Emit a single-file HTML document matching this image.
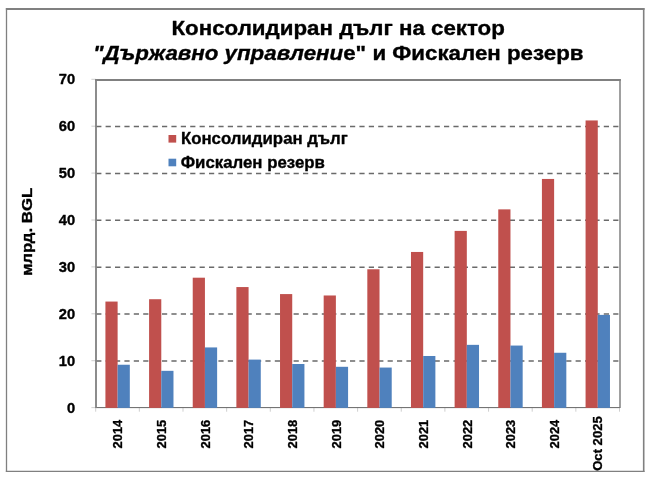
<!DOCTYPE html><html><head><meta charset="utf-8"><title>Консолидиран дълг</title>
<style>html,body{margin:0;padding:0;background:#fff;}svg{display:block;font-family:"Liberation Sans",Arial,sans-serif;font-weight:bold;fill:#000;}text{stroke:#000;stroke-width:0.35px;stroke-linejoin:round;}</style></head><body>
<svg width="650" height="480" viewBox="0 0 650 480">
<rect x="0" y="0" width="650" height="480" fill="#fff"/>
<path d="M5.85 9H644.5" stroke="#808080" stroke-width="1.9" fill="none"/>
<path d="M6.5 8V472.1" stroke="#808080" stroke-width="1.3" fill="none"/>
<path d="M643.7 8V472.1" stroke="#808080" stroke-width="1.6" fill="none"/>
<path d="M5.85 471.4H644.5" stroke="#808080" stroke-width="1.4" fill="none"/>
<path d="M95.1 80H620.8" stroke="#808080" stroke-width="1.8" fill="none"/>
<path d="M620.0 79.1V408.09999999999997" stroke="#808080" stroke-width="1.5" fill="none"/>
<line x1="96.2" x2="619.8" y1="361.00" y2="361.00" stroke="#6a6a6a" stroke-width="1.5" stroke-dasharray="5.2 4.2"/>
<line x1="96.2" x2="619.8" y1="314.10" y2="314.10" stroke="#6a6a6a" stroke-width="1.5" stroke-dasharray="5.2 4.2"/>
<line x1="96.2" x2="619.8" y1="267.20" y2="267.20" stroke="#6a6a6a" stroke-width="1.5" stroke-dasharray="5.2 4.2"/>
<line x1="96.2" x2="619.8" y1="220.30" y2="220.30" stroke="#6a6a6a" stroke-width="1.5" stroke-dasharray="5.2 4.2"/>
<line x1="96.2" x2="619.8" y1="173.40" y2="173.40" stroke="#6a6a6a" stroke-width="1.5" stroke-dasharray="5.2 4.2"/>
<line x1="96.2" x2="619.8" y1="126.50" y2="126.50" stroke="#6a6a6a" stroke-width="1.5" stroke-dasharray="5.2 4.2"/>
<line x1="96.0" x2="619.8" y1="407.59999999999997" y2="407.59999999999997" stroke="#666" stroke-width="1"/>
<rect x="105.42" y="301.56" width="12.2" height="106.34" fill="#c0504d"/>
<rect x="117.62" y="364.74" width="12.2" height="43.16" fill="#4f81bd"/>
<rect x="149.08" y="299.22" width="12.2" height="108.68" fill="#c0504d"/>
<rect x="161.28" y="370.83" width="12.2" height="37.07" fill="#4f81bd"/>
<rect x="192.73" y="277.70" width="12.2" height="130.20" fill="#c0504d"/>
<rect x="204.93" y="347.43" width="12.2" height="60.47" fill="#4f81bd"/>
<rect x="236.38" y="287.06" width="12.2" height="120.84" fill="#c0504d"/>
<rect x="248.57" y="359.60" width="12.2" height="48.30" fill="#4f81bd"/>
<rect x="280.03" y="294.08" width="12.2" height="113.82" fill="#c0504d"/>
<rect x="292.23" y="364.00" width="12.2" height="43.90" fill="#4f81bd"/>
<rect x="323.68" y="295.48" width="12.2" height="112.42" fill="#c0504d"/>
<rect x="335.88" y="366.80" width="12.2" height="41.10" fill="#4f81bd"/>
<rect x="367.32" y="269.27" width="12.2" height="138.63" fill="#c0504d"/>
<rect x="379.52" y="367.55" width="12.2" height="40.35" fill="#4f81bd"/>
<rect x="410.98" y="251.96" width="12.2" height="155.94" fill="#c0504d"/>
<rect x="423.18" y="355.99" width="12.2" height="51.91" fill="#4f81bd"/>
<rect x="454.62" y="230.90" width="12.2" height="177.00" fill="#c0504d"/>
<rect x="466.82" y="344.85" width="12.2" height="63.05" fill="#4f81bd"/>
<rect x="498.27" y="209.37" width="12.2" height="198.53" fill="#c0504d"/>
<rect x="510.47" y="345.56" width="12.2" height="62.34" fill="#4f81bd"/>
<rect x="541.92" y="178.95" width="12.2" height="228.95" fill="#c0504d"/>
<rect x="554.12" y="352.76" width="12.2" height="55.14" fill="#4f81bd"/>
<rect x="585.57" y="120.45" width="12.2" height="287.45" fill="#c0504d"/>
<rect x="597.77" y="314.90" width="12.2" height="93.00" fill="#4f81bd"/>
<line x1="96.0" x2="96.0" y1="79.6" y2="408.09999999999997" stroke="#808080" stroke-width="1.8"/>
<line x1="91.4" x2="96.0" y1="407.60" y2="407.60" stroke="#808080" stroke-opacity="0.38" stroke-width="1"/>
<text transform="translate(75.2,412.50) scale(1.05,1)" font-size="14" text-anchor="end">0</text>
<line x1="91.4" x2="96.0" y1="360.70" y2="360.70" stroke="#808080" stroke-opacity="0.38" stroke-width="1"/>
<text transform="translate(75.2,365.60) scale(1.05,1)" font-size="14" text-anchor="end">10</text>
<line x1="91.4" x2="96.0" y1="313.80" y2="313.80" stroke="#808080" stroke-opacity="0.38" stroke-width="1"/>
<text transform="translate(75.2,318.70) scale(1.05,1)" font-size="14" text-anchor="end">20</text>
<line x1="91.4" x2="96.0" y1="266.90" y2="266.90" stroke="#808080" stroke-opacity="0.38" stroke-width="1"/>
<text transform="translate(75.2,271.80) scale(1.05,1)" font-size="14" text-anchor="end">30</text>
<line x1="91.4" x2="96.0" y1="220.00" y2="220.00" stroke="#808080" stroke-opacity="0.38" stroke-width="1"/>
<text transform="translate(75.2,224.90) scale(1.05,1)" font-size="14" text-anchor="end">40</text>
<line x1="91.4" x2="96.0" y1="173.10" y2="173.10" stroke="#808080" stroke-opacity="0.38" stroke-width="1"/>
<text transform="translate(75.2,178.00) scale(1.05,1)" font-size="14" text-anchor="end">50</text>
<line x1="91.4" x2="96.0" y1="126.20" y2="126.20" stroke="#808080" stroke-opacity="0.38" stroke-width="1"/>
<text transform="translate(75.2,131.10) scale(1.05,1)" font-size="14" text-anchor="end">60</text>
<line x1="91.4" x2="96.0" y1="79.30" y2="79.30" stroke="#808080" stroke-opacity="0.38" stroke-width="1"/>
<text transform="translate(75.2,84.20) scale(1.05,1)" font-size="14" text-anchor="end">70</text>
<line x1="95.70" x2="95.70" y1="407.9" y2="411.7" stroke="#808080" stroke-opacity="0.38" stroke-width="1"/>
<line x1="139.35" x2="139.35" y1="407.9" y2="411.7" stroke="#808080" stroke-opacity="0.38" stroke-width="1"/>
<line x1="183.00" x2="183.00" y1="407.9" y2="411.7" stroke="#808080" stroke-opacity="0.38" stroke-width="1"/>
<line x1="226.65" x2="226.65" y1="407.9" y2="411.7" stroke="#808080" stroke-opacity="0.38" stroke-width="1"/>
<line x1="270.30" x2="270.30" y1="407.9" y2="411.7" stroke="#808080" stroke-opacity="0.38" stroke-width="1"/>
<line x1="313.95" x2="313.95" y1="407.9" y2="411.7" stroke="#808080" stroke-opacity="0.38" stroke-width="1"/>
<line x1="357.60" x2="357.60" y1="407.9" y2="411.7" stroke="#808080" stroke-opacity="0.38" stroke-width="1"/>
<line x1="401.25" x2="401.25" y1="407.9" y2="411.7" stroke="#808080" stroke-opacity="0.38" stroke-width="1"/>
<line x1="444.90" x2="444.90" y1="407.9" y2="411.7" stroke="#808080" stroke-opacity="0.38" stroke-width="1"/>
<line x1="488.55" x2="488.55" y1="407.9" y2="411.7" stroke="#808080" stroke-opacity="0.38" stroke-width="1"/>
<line x1="532.20" x2="532.20" y1="407.9" y2="411.7" stroke="#808080" stroke-opacity="0.38" stroke-width="1"/>
<line x1="575.85" x2="575.85" y1="407.9" y2="411.7" stroke="#808080" stroke-opacity="0.38" stroke-width="1"/>
<line x1="619.50" x2="619.50" y1="407.9" y2="411.7" stroke="#808080" stroke-opacity="0.38" stroke-width="1"/>
<text transform="translate(122.42,419.8) rotate(-90) scale(0.945,1)" font-size="13.6" text-anchor="end">2014</text>
<text transform="translate(166.07,419.8) rotate(-90) scale(0.945,1)" font-size="13.6" text-anchor="end">2015</text>
<text transform="translate(209.72,419.8) rotate(-90) scale(0.945,1)" font-size="13.6" text-anchor="end">2016</text>
<text transform="translate(253.38,419.8) rotate(-90) scale(0.945,1)" font-size="13.6" text-anchor="end">2017</text>
<text transform="translate(297.02,419.8) rotate(-90) scale(0.945,1)" font-size="13.6" text-anchor="end">2018</text>
<text transform="translate(340.68,419.8) rotate(-90) scale(0.945,1)" font-size="13.6" text-anchor="end">2019</text>
<text transform="translate(384.32,419.8) rotate(-90) scale(0.945,1)" font-size="13.6" text-anchor="end">2020</text>
<text transform="translate(427.98,419.8) rotate(-90) scale(0.945,1)" font-size="13.6" text-anchor="end">2021</text>
<text transform="translate(471.62,419.8) rotate(-90) scale(0.945,1)" font-size="13.6" text-anchor="end">2022</text>
<text transform="translate(515.27,419.8) rotate(-90) scale(0.945,1)" font-size="13.6" text-anchor="end">2023</text>
<text transform="translate(558.93,419.8) rotate(-90) scale(0.945,1)" font-size="13.6" text-anchor="end">2024</text>
<text transform="translate(601.87,416.3) rotate(-90) scale(0.962,1)" font-size="13.6" text-anchor="end">Oct 2025</text>
<text transform="translate(31.6,231.9) rotate(-90) scale(1.105,1)" font-size="15.2" text-anchor="middle">млрд. BGL</text>
<text transform="translate(171.5,35.3) scale(1.063,1)" font-size="21.0">Консолидиран дълг на сектор</text>
<text transform="translate(92.9,60.3) scale(1.063,1)" font-size="21.0"><tspan font-style="italic">"Държавно управлени</tspan>е" и Фискален резерв</text>
<rect x="168.5" y="135" width="7.7" height="7.6" fill="#c0504d"/>
<text transform="translate(180.9,144.2) scale(0.99,1)" font-size="17.0">Консолидиран дълг</text>
<rect x="168.5" y="158.7" width="7.7" height="7.6" fill="#4f81bd"/>
<text transform="translate(180.7,168.4) scale(0.99,1)" font-size="17.0">Фискален резерв</text>
</svg></body></html>
